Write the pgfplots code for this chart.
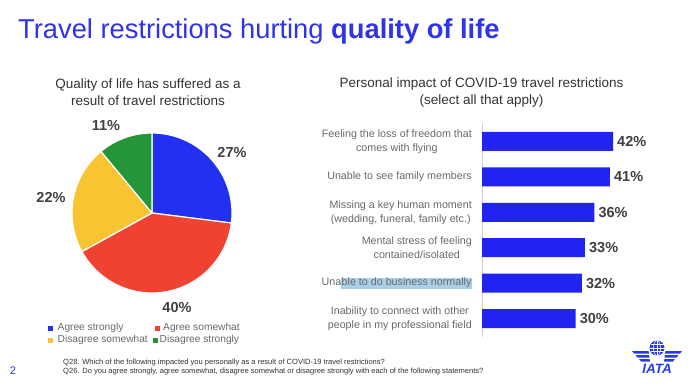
\documentclass[border=0pt]{standalone}
\usepackage{pgfplots}
\pgfplotsset{compat=1.18}
\usepackage{pgfplotstable}
\usepackage{fontspec}
\setmainfont{Liberation Sans}
\definecolor{titleblue}{RGB}{48,52,230}
\definecolor{pieblue}{RGB}{34,48,240}
\definecolor{piered}{RGB}{240,66,48}
\definecolor{pieyellow}{RGB}{248,196,50}
\definecolor{piegreen}{RGB}{36,150,56}
\definecolor{barblue}{RGB}{32,36,240}
\definecolor{txtdark}{RGB}{51,51,51}
\definecolor{txtgray}{RGB}{105,105,105}
\definecolor{numgray}{RGB}{64,64,64}
\definecolor{hl}{RGB}{170,208,232}
\definecolor{logoblue}{RGB}{40,60,225}
\setlength{\fboxsep}{0.4pt}

\pgfplotstableread{
pos pct
0 42
1 41
2 36
3 33
4 32
5 30
}\impact

\newcommand\fs[2]{\fontsize{#1}{#2}\selectfont}
\newcommand\slice[3]{%
  \pgfmathsetmacro\sa{90-3.6*#1}%
  \pgfmathsetmacro\sb{90-3.6*(#1+#2)}%
  \edef\doslice{\noexpand\addplot[fill=#3, draw=white, line width=1.2pt, line join=round, domain=\sa:\sb, samples=90] ({cos(x)},{sin(x)}) -- (axis cs:0,0) -- cycle;}%
  \doslice}

\begin{document}
\begin{tikzpicture}
\useasboundingbox (0,0) rectangle (700pt,-390pt);
\fill[white] (0,0) rectangle (700pt,-390pt);

% main title
\node[anchor=base west, inner sep=0, text=titleblue, font=\fs{27.3}{30}] at (18pt,-39pt) {Travel restrictions hurting \textbf{quality of life}};

% pie title
\node[align=center, inner sep=0, text=txtdark, font=\fs{13.5}{17}] at (148pt,-92.5pt) {Quality of life has suffered as a\\result of travel restrictions};

% pie
\begin{axis}[at={(152pt,-213pt)}, anchor=center, x=80pt, y=80pt,
  xmin=-1, xmax=1, ymin=-1, ymax=1, hide axis, clip=false]
  \slice{0}{27}{pieblue}
  \slice{27}{40}{piered}
  \slice{67}{22}{pieyellow}
  \slice{89}{11}{piegreen}
\end{axis}

\begin{scope}[every node/.style={font=\bfseries\fs{14.5}{16}, text=numgray, inner sep=0}]
\node at (232pt,-152pt) {27\%};
\node at (177pt,-307.5pt) {40\%};
\node at (51pt,-197.5pt) {22\%};
\node at (106pt,-125.5pt) {11\%};
\end{scope}

% legend
\begin{scope}[every node/.style={font=\fs{10.2}{12}, text=txtgray, inner sep=0, anchor=west}]
\fill[pieblue] (48pt,-326pt) rectangle ++(4.5pt,-4.5pt);
\node at (57.5pt,-328pt) {Agree strongly};
\fill[piered] (155pt,-326pt) rectangle ++(4.5pt,-4.5pt);
\node at (163pt,-328pt) {Agree somewhat};
\fill[pieyellow] (48pt,-338pt) rectangle ++(4.5pt,-4.5pt);
\node at (57.5pt,-340pt) {Disagree somewhat};
\fill[piegreen] (153pt,-338pt) rectangle ++(4.5pt,-4.5pt);
\node at (159.5pt,-340pt) {Disagree strongly};
\end{scope}

% bar chart title
\node[align=center, inner sep=0, text=txtdark, font=\fs{13.5}{17}] at (481.5pt,-92.5pt) {Personal impact of COVID-19 travel restrictions\\(select all that apply)};

% bar chart
\begin{axis}[at={(482pt,-123pt)}, anchor=north west, scale only axis,
  width=156pt, height=214pt,
  xbar, bar width=19pt, xmin=0, xmax=50, ymin=-0.52, ymax=5.52, y dir=reverse,
  axis x line=none, axis y line*=left,
  y axis line style={-, draw=gray!35, line width=0.6pt},
  ytick={0,...,5}, major tick length=0pt,
  /pgf/number format/assume math mode=true,
  yticklabels={{Feeling the loss of freedom that\\comes with flying},
    {Unable to see family members},
    {Missing a key human moment\\(wedding, funeral, family etc.)},
    {Mental stress of feeling\\contained/isolated},
    {Una\colorbox{hl}{ble to do business normally}},
    {Inability to connect with other\\people in my professional field}},
  yticklabel style={align=center, font=\fs{10.7}{14}, text=txtgray, inner sep=0pt, xshift=-10pt},
  nodes near coords={\pgfmathprintnumber{\pgfplotspointmeta}\%}, point meta=x,
  every node near coord/.append style={font=\bfseries\fs{14.5}{16}, text=numgray, inner sep=0pt, xshift=4pt},
  clip=false]
\addplot[fill=barblue, draw=none] table[x=pct, y=pos] {\impact};
\end{axis}

% footnotes
\node[anchor=base west, inner sep=0, text=txtdark, font=\fs{7.55}{9}] at (63pt,-364.5pt) {Q28. Which of the following impacted you personally as a result of COVID-19 travel restrictions?};
\node[anchor=base west, inner sep=0, text=txtdark, font=\fs{7.55}{9}] at (63pt,-373.5pt) {Q26. Do you agree strongly, agree somewhat, disagree somewhat or disagree strongly with each of the following statements?};
\node[inner sep=0, text=titleblue, font=\fs{11}{12}] at (13pt,-371pt) {2};

% IATA logo
\fill[logoblue] (657pt,-348pt) circle (7.5pt);
\draw[white, line width=0.5pt] (657pt,-340.5pt) -- (657pt,-355.5pt);
\draw[white, line width=0.5pt] (649.5pt,-348pt) -- (664.5pt,-348pt);
\draw[white, line width=0.5pt] (657pt,-348pt) ellipse (3.6pt and 7.5pt);
\draw[white, line width=0.4pt] (650.5pt,-344.5pt) -- (663.5pt,-344.5pt);
\draw[white, line width=0.4pt] (650.5pt,-351.5pt) -- (663.5pt,-351.5pt);
\foreach \s in {1,-1}{
  \begin{scope}[xshift=657pt, yshift=-348pt, xscale=\s]
  \fill[logoblue] (-8.5pt,-3pt) -- (-25pt,-3pt) -- (-23pt,-5.5pt) -- (-8pt,-5.5pt) -- cycle;
  \fill[logoblue] (-8pt,-7pt) -- (-21.5pt,-7pt) -- (-19.5pt,-9.5pt) -- (-7.5pt,-9.5pt) -- cycle;
  \fill[logoblue] (-7.5pt,-11pt) -- (-18pt,-11pt) -- (-16pt,-13.5pt) -- (-7pt,-13.5pt) -- cycle;
  \end{scope}
}
\node[inner sep=0, text=logoblue, font=\bfseries\itshape\fs{13.5}{14}] at (657pt,-369pt) {IATA};
\end{tikzpicture}
\end{document}
